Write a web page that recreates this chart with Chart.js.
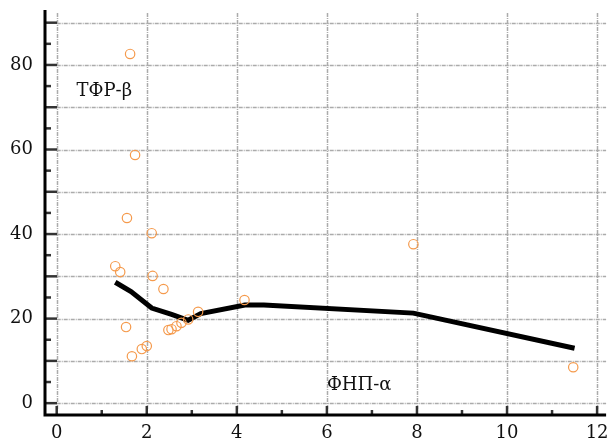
<!DOCTYPE html>
<html>
<head>
<meta charset="utf-8">
<script src="https://cdn.jsdelivr.net/npm/chart.js@4.4.1/dist/chart.umd.min.js"></script>
<style>
  html, body { margin: 0; padding: 0; background: #fff; }
  #wrap { width: 612px; height: 443px; }
</style>
</head>
<body>
<div id="wrap"><canvas id="chart" width="612" height="443"></canvas></div>
<script>
// measured points (orange circles)
const scatterX = [1.63, 1.74, 1.56, 2.11, 1.30, 1.41, 2.13, 2.37, 1.54, 1.67, 1.89, 2.00, 2.48, 2.55, 2.66, 2.77, 2.92, 3.14, 4.17, 7.92, 11.47];
const scatterY = [82.6, 58.7, 43.8, 40.2, 32.4, 31.0, 30.1, 27.0, 18.0, 11.1, 12.8, 13.5, 17.3, 17.5, 18.2, 19.0, 19.8, 21.6, 24.4, 37.6, 8.5];

// trend line
const lineX = [1.30, 1.65, 2.11, 2.55, 2.92, 3.20, 4.18, 4.60, 7.92, 11.50];
const lineY = [28.6, 26.4, 22.5, 21.0, 19.6, 21.2, 23.2, 23.2, 21.3, 13.0];

const xTicks = [0, 2, 4, 6, 8, 10, 12];
const yTicks = [0, 20, 40, 60, 80];

const labelTop = 'ТФР-β';
const labelBottom = 'ФНП-α';

const serif = '"DejaVu Serif", serif';

const decor = {
    id: 'decor',
    beforeDatasetsDraw(chart) {
        const { ctx, chartArea: a, scales: { x, y } } = chart;
        ctx.save();
        ctx.strokeStyle = '#ababab';
        ctx.lineWidth = 1.5;
        ctx.setLineDash([4, 1, 1, 1]);
        for (let v = 0; v <= 90; v += 10) {
            const py = Math.round(y.getPixelForValue(v)) + 0.5;
            ctx.beginPath();
            ctx.moveTo(x.getPixelForValue(0), py);
            ctx.lineTo(a.right, py);
            ctx.stroke();
        }
        for (let v = 0; v <= 12; v += 2) {
            const px = Math.round(x.getPixelForValue(v)) + 0.5;
            ctx.beginPath();
            ctx.moveTo(px, a.top + 3);
            ctx.lineTo(px, a.bottom - 5);
            ctx.stroke();
        }
        ctx.restore();
    },
    afterDatasetsDraw(chart) {
        const { ctx, chartArea: a, scales: { x, y } } = chart;
        ctx.save();
        // ticks pointing inward
        ctx.strokeStyle = '#333';
        ctx.lineWidth = 2.5;
        for (let v = 0; v <= 90; v += 5) {
            const py = y.getPixelForValue(v);
            const len = v % 10 === 0 ? 12 : 6;
            ctx.beginPath();
            ctx.moveTo(a.left, py);
            ctx.lineTo(a.left + len, py);
            ctx.stroke();
        }
        for (let v = 0; v <= 12; v += 1) {
            const px = x.getPixelForValue(v);
            const len = v % 2 === 0 ? 9 : 5;
            ctx.beginPath();
            ctx.moveTo(px, a.bottom);
            ctx.lineTo(px, a.bottom - len);
            ctx.stroke();
        }
        // axis lines
        ctx.strokeStyle = '#000';
        ctx.lineWidth = 3;
        ctx.beginPath();
        ctx.moveTo(a.left, a.top);
        ctx.lineTo(a.left, a.bottom);
        ctx.lineTo(a.right, a.bottom);
        ctx.stroke();
        // text labels
        ctx.fillStyle = '#111';
        ctx.font = '18px ' + serif;
        ctx.textBaseline = 'middle';
        ctx.textAlign = 'left';
        ctx.fillText(labelTop, x.getPixelForValue(0.44), y.getPixelForValue(73.8));
        ctx.fillText(labelBottom, x.getPixelForValue(6.0), y.getPixelForValue(4.3));
        ctx.restore();
    }
};

new Chart(document.getElementById('chart'), {
    type: 'scatter',
    data: {
        datasets: [{
            type: 'scatter',
            data: scatterX.map((v, i) => ({ x: v, y: scatterY[i] })),
            pointRadius: 4.7,
            pointBorderWidth: 1.2,
            pointBorderColor: '#f59a4c',
            pointBackgroundColor: 'rgba(255,255,255,0)',
            order: 1
        }, {
            type: 'line',
            data: lineX.map((v, i) => ({ x: v, y: lineY[i] })),
            borderColor: '#000',
            borderWidth: 5,
            pointRadius: 0,
            tension: 0,
            fill: false,
            order: 2
        }]
    },
    options: {
        responsive: false,
        animation: false,
        events: [],
        layout: { padding: { top: 10, right: 0, left: 0, bottom: 0 } },
        plugins: { legend: { display: false }, tooltip: { enabled: false } },
        scales: {
            x: {
                type: 'linear',
                min: -0.26,
                max: 12.2,
                grid: { display: false, drawTicks: false },
                border: { display: false },
                afterFit: s => { s.height = 28; s.paddingLeft = 0; s.paddingRight = 0; },
                ticks: {
                    stepSize: 2,
                    includeBounds: false,
                    padding: 8,
                    color: '#111',
                    font: { family: serif, size: 18 },
                    callback: v => xTicks.includes(v) ? v : ''
                }
            },
            y: {
                type: 'linear',
                min: -2.8,
                max: 93,
                grid: { display: false, drawTicks: false },
                border: { display: false },
                afterFit: s => { s.width = 45; s.paddingTop = 0; s.paddingBottom = 0; },
                ticks: {
                    stepSize: 10,
                    includeBounds: false,
                    padding: 12,
                    color: '#111',
                    font: { family: serif, size: 18 },
                    callback: v => yTicks.includes(v) ? v : ''
                }
            }
        }
    },
    plugins: [decor]
});
</script>
</body>
</html>
